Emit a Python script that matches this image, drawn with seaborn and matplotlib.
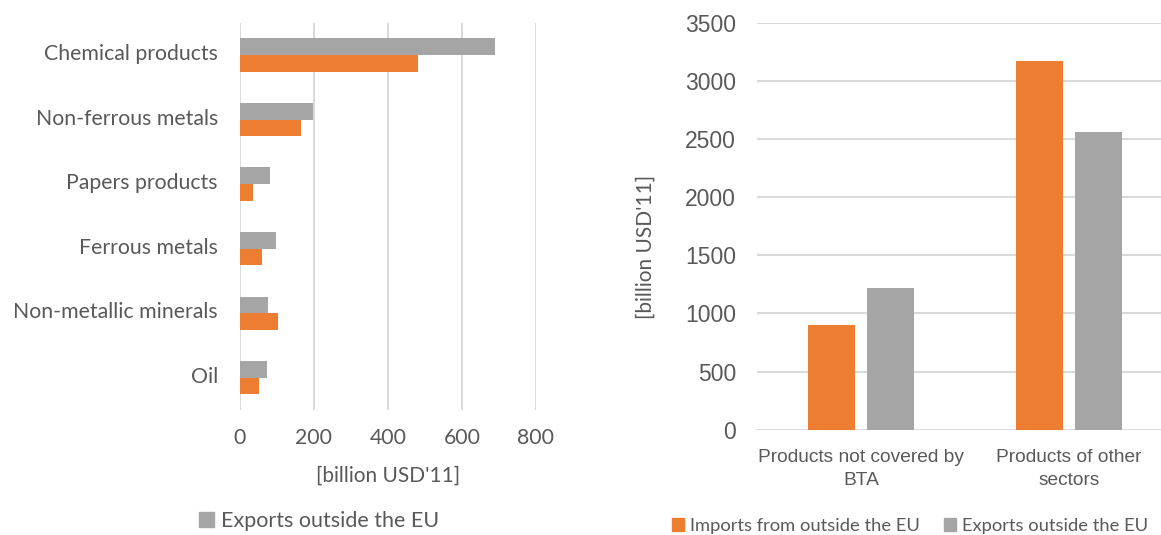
import matplotlib
matplotlib.use("Agg")
import matplotlib.pyplot as plt
import matplotlib.transforms as mtransforms
from matplotlib.patches import Patch
import pandas as pd
import seaborn as sns

# Sector trade flows (billion USD'11)
sectors = ["Chemical products", "Non-ferrous metals", "Papers products",
           "Ferrous metals", "Non-metallic minerals", "Oil"]
sector_exports = [690, 197, 81, 96, 77, 73]
sector_imports = [480, 165, 35, 60, 104, 52]

# Totals by product group (billion USD'11)
groups = ["Products not covered by\nBTA", "Products of other\nsectors"]
group_imports = [900, 3170]
group_exports = [1216, 2563]

IMP = "Imports from outside the EU"
EXP = "Exports outside the EU"
ORANGE = "#ED7D31"
GREY = "#A5A5A5"
TXT = "#595959"
GRID = "#D9D9D9"

sector_df = pd.DataFrame({
    "sector": sectors * 2,
    "value": sector_exports + sector_imports,
    "flow": [EXP] * len(sectors) + [IMP] * len(sectors),
})
group_df = pd.DataFrame({
    "group": groups * 2,
    "value": group_imports + group_exports,
    "flow": [IMP] * len(groups) + [EXP] * len(groups),
})

sns.set_theme(style="white")
plt.rcParams["font.family"] = ["Lato", "DejaVu Sans"]

W, H = 1161, 535
fig = plt.figure(figsize=(W / 100, H / 100), dpi=100)

def rect(l, t, r, b):
    return [l / W, 1 - b / H, (r - l) / W, (b - t) / H]

# ---- left: horizontal bars per sector ----
ax1 = fig.add_axes(rect(240, 22.7, 536, 410))
sns.barplot(data=sector_df, y="sector", x="value", hue="flow",
            hue_order=[EXP, IMP], palette=[GREY, ORANGE], orient="h",
            width=0.516, gap=0, saturation=1, legend=False, ax=ax1,
            zorder=3, edgecolor="none")
ax1.set_xlim(0, 800)
ax1.set_xticks([0, 200, 400, 600, 800])
ax1.grid(axis="x", color=GRID, lw=1.4, zorder=0)
ax1.set_axisbelow(True)
for s in ax1.spines.values():
    s.set_visible(False)
ax1.tick_params(axis="both", length=0, labelsize=15.3, colors=TXT)
ax1.tick_params(axis="y", pad=16)
ax1.tick_params(axis="x", pad=13)
lift = mtransforms.ScaledTranslation(0, 3 / 100, fig.dpi_scale_trans)
for lab in ax1.get_yticklabels():
    lab.set_transform(lab.get_transform() + lift)
ax1.set_ylabel("")
ax1.set_xlabel("[billion USD'11]", fontsize=15, color=TXT, labelpad=13)

fig.legend(handles=[Patch(color=GREY, label=EXP)], loc="center left",
           bbox_to_anchor=(180 / W, 1 - 521 / H), frameon=False,
           fontsize=15.5, labelcolor=TXT, handlelength=0.7,
           handleheight=0.7, handletextpad=0.3)

# ---- right: grouped columns ----
ax2 = fig.add_axes(rect(757, 22.7, 1173, 429.7))
sns.barplot(data=group_df, x="group", y="value", hue="flow",
            hue_order=[IMP, EXP], palette=[ORANGE, GREY],
            width=0.568, gap=0.213, saturation=1, legend=False, ax=ax2,
            zorder=3, edgecolor="none")
ax2.set_ylim(0, 3500)
ax2.set_yticks(range(0, 3501, 500))
ax2.set_xlim(-0.5, 1.5)
ax2.grid(axis="y", color=GRID, lw=1.4, zorder=0)
ax2.set_axisbelow(True)
for s in ax2.spines.values():
    s.set_visible(False)
ax2.tick_params(axis="both", length=0, colors=TXT)
ax2.tick_params(axis="y", pad=15, labelsize=16.5)
ax2.tick_params(axis="x", pad=14, labelsize=13.8)
for lab in ax2.get_yticklabels() + ax2.get_xticklabels():
    lab.set_fontfamily(["Liberation Sans", "DejaVu Sans"])
for lab in ax2.get_xticklabels():
    lab.set_linespacing(1.45)
ax2.set_xlabel("")
ax2.set_ylabel("[billion USD'11]", fontsize=15, color=TXT)
ax2.yaxis.set_label_coords((656 - 757) / 416, (430 - 247) / 407)

fig.legend(handles=[Patch(color=ORANGE, label=IMP), Patch(color=GREY, label=EXP)],
           loc="center left", bbox_to_anchor=(655 / W, 1 - 526 / H),
           ncol=2, frameon=False, fontsize=13.2, labelcolor=TXT,
           handlelength=0.7, handleheight=0.7, handletextpad=0.3,
           columnspacing=1.3)

fig.savefig("out.png", dpi=100)
